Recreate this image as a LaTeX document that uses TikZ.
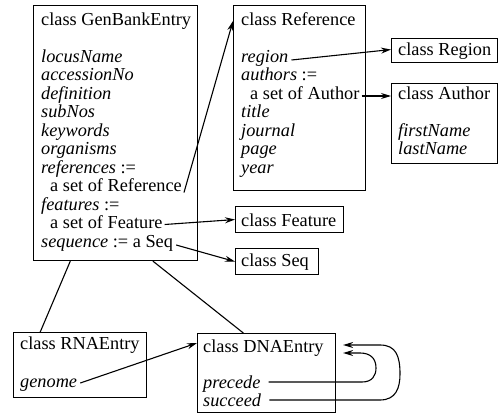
\documentclass[tikz,border=0pt]{standalone}
\usepackage{fontspec}
\setmainfont{Liberation Serif}
\usetikzlibrary{arrows.meta,calc}
\begin{document}
\begin{tikzpicture}[x=1pt,y=-1pt,
  box/.style={draw, line width=1.1pt, inner sep=0pt, anchor=north west},
  ln/.style={anchor=base west, inner sep=0pt, font=\fontsize{18.3}{18.3}\selectfont},
  attr/.style={ln, font=\fontsize{18.3}{18.3}\selectfont\itshape},
  arr/.style={line width=1.1pt, -{Stealth[length=10pt,width=6pt]}},
  link/.style={line width=1.1pt}]
\useasboundingbox (0,0) rectangle (499,415);
% boxes
\node[box, minimum width=164pt, minimum height=255pt] (gb) at (33,5) {};
\node[box, minimum width=132pt, minimum height=185pt] (refbox) at (233,5) {};
\node[box, minimum width=106pt, minimum height=24pt] (regbox) at (391,38) {};
\node[box, minimum width=106pt, minimum height=80pt] (autbox) at (391,83) {};
\node[box, minimum width=108pt, minimum height=26pt] (featbox) at (235,206) {};
\node[box, minimum width=83pt, minimum height=26pt] (seqbox) at (235,248) {};
\node[box, minimum width=133pt, minimum height=65pt] (rnabox) at (13,332) {};
\node[box, minimum width=138pt, minimum height=79pt] (dnabox) at (197,333) {};
% GenBankEntry text
\node[ln] (gbt) at (41,25) {class GenBankEntry};
\node[attr] (gb1) at (41,62) {locusName};
\node[attr] (gb2) at (41,80.5) {accessionNo};
\node[attr] (gb3) at (41,99) {definition};
\node[attr] (gb4) at (41,117.5) {subNos};
\node[attr] (gb5) at (41,136) {keywords};
\node[attr] (gb6) at (41,154.5) {organisms};
\node[attr] (gb7) at (41,173) {references \upshape:=};
\node[ln] (refset) at (50,191.5) {a set of Reference};
\node[attr] (gb8) at (41,210) {features \upshape:=};
\node[ln] (featset) at (50,228.5) {a set of Feature};
\node[attr] (seqattr) at (41,247) {sequence \upshape:= a Seq};
% Reference text
\node[ln] (reft) at (241,25) {class Reference};
\node[attr] (region) at (241,62) {region};
\node[attr] (r2) at (241,80.5) {authors \upshape:=};
\node[ln] (authset) at (250,99) {a set of Author};
\node[attr] (r3) at (241,117.5) {title};
\node[attr] (r4) at (241,136) {journal};
\node[attr] (r5) at (241,154.5) {page};
\node[attr] (r6) at (241,173) {year};
% small classes
\node[ln] (regt) at (398,55) {class Region};
\node[ln] (autt) at (398,99) {class Author};
\node[attr] (a1) at (398,136) {firstName};
\node[attr] (a2) at (398,154.5) {lastName};
\node[ln] (featt) at (241,226) {class Feature};
\node[ln] (seqt) at (241,266) {class Seq};
\node[ln] (rnat) at (20,349) {class RNAEntry};
\node[attr] (genome) at (20,387) {genome};
\node[ln] (dnat) at (203,352) {class DNAEntry};
\node[attr] (precede) at (203,388) {precede};
\node[attr] (succeed) at (203,406) {succeed};
% inheritance links
\draw[link] ($(gb.south west)!0.226!(gb.south east)$) -- ($(rnabox.north west)!0.203!(rnabox.north east)$);
\draw[link] ($(gb.south west)!0.726!(gb.south east)$) -- ($(dnabox.north west)!0.333!(dnabox.north east)$);
% references
\draw[arr] ([shift={(2,1)}]refset.base east) -- ($(refbox.north west)+(0,16)$);
\draw[arr] ([shift={(3,-2)}]region.base east) -- ($(regbox.west)+(0,-1)$);
\draw[arr] ([shift={(2,-3)}]authset.base east) coordinate (aa) -- (aa -| autbox.west);
\draw[arr] ([shift={(2,-4)}]featset.base east) -- (featbox.west);
\draw[arr] ([shift={(3,-2)}]seqattr.base east) -- (seqbox.west);
\draw[arr] ([shift={(3,-4)}]genome.base east) -- ($(dnabox.north west)+(0,10)$);
% self loops
\draw[arr] ([shift={(8,-6)}]precede.base east) -- (362,382)
  .. controls (372,382) and (376,376) .. (376,368)
  .. controls (376,358) and (370,353) .. (360,353) -- ($(dnabox.north east)+(7,20)$);
\draw[arr] ([shift={(8,-6)}]succeed.base east) -- (380,400)
  .. controls (396,400) and (400,388) .. (400,374)
  .. controls (400,356) and (396,345) .. (380,345) -- ($(dnabox.north east)+(7,12)$);
\end{tikzpicture}
\end{document}
